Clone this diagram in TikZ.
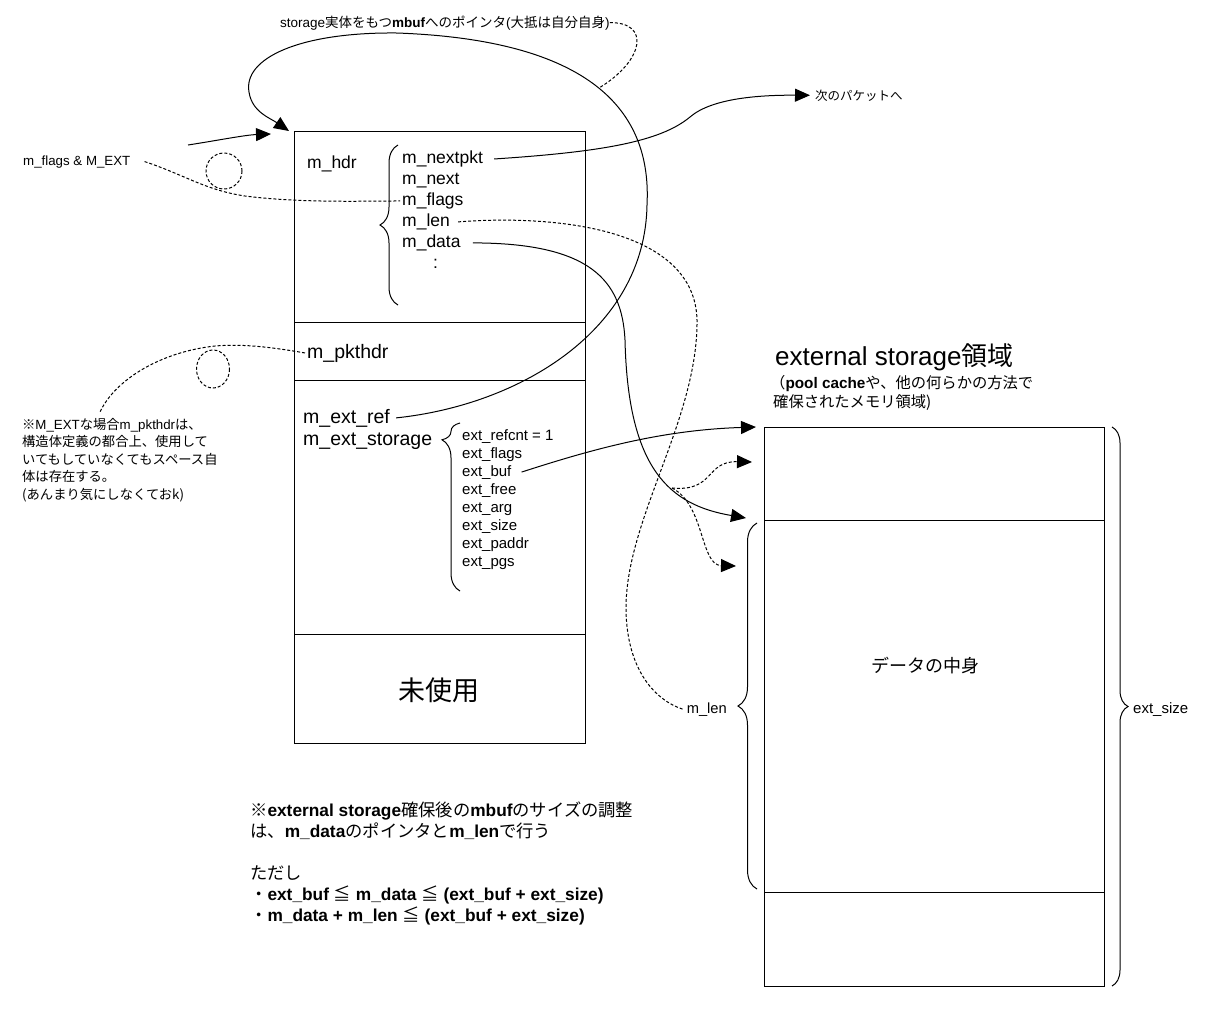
\documentclass[tikz,border=0pt]{standalone}
\usepackage{fontspec}
\setmainfont{Liberation Sans}
\newfontfamily\jpfont{Noto Sans CJK JP}
\newcommand{\jp}[1]{{\jpfont #1}}
\usetikzlibrary{arrows.meta, calc, decorations.pathreplacing}

\tikzset{
  sect/.style={draw, line width=1pt, inner sep=0, anchor=north west},
  fld/.style={font=\fontsize{17.5}{21}\selectfont, anchor=base west, inner sep=0},
  bigfld/.style={font=\fontsize{19.5}{23}\selectfont, anchor=base west, inner sep=0},
  extfld/.style={font=\fontsize{15}{18}\selectfont, anchor=base west, inner sep=0},
  small/.style={font=\fontsize{13.3}{17.5}\selectfont, inner sep=0},
  conn/.style={line width=1pt, -{Triangle[length=15pt,width=13pt]}},
  dots/.style={line width=1pt, dash pattern=on 3pt off 2pt},
  dotarrow/.style={dots, -{Triangle[length=15pt,width=13pt]}},
  brc/.style={line width=1pt, decorate},
}

\begin{document}
\begin{tikzpicture}[x=1pt, y=-1pt]
  \useasboundingbox (0,0) rectangle (1207,1013);
  \fill[white] (0,0) rectangle (1207,1013);

  % ===== mbuf (left) =====
  \node[sect, minimum width=291pt, minimum height=191pt] (hdrsec) at (294,131) {};
  \node[sect, minimum width=291pt, minimum height=58pt] (pktsec) at (294,322) {};
  \node[sect, minimum width=291pt, minimum height=254pt] (extsec) at (294,380) {};
  \node[sect, minimum width=291pt, minimum height=109pt] (unused) at (294,634) {};

  \node[fld] (mhdr) at (307,168) {m\_hdr};
  \node[fld] (nextpkt) at (402,163.5) {m\_nextpkt};
  \node[fld] (mnext) at (402,184.5) {m\_next};
  \node[fld] (mflags) at (402,205.5) {m\_flags};
  \node[fld] (mlen) at (402,226.5) {m\_len};
  \node[fld] (mdata) at (402,247.5) {m\_data};
  \node[fld] (mdots) at (433,268) {:};
  \draw[brc, decoration={brace, amplitude=18pt}] (398,305) -- (398,145);

  \node[bigfld] (pkthdr) at (307,358) {m\_pkthdr};

  \node[bigfld] (extref) at (303,423) {m\_ext\_ref};
  \node[bigfld] (extstor) at (303,445) {m\_ext\_storage};
  \foreach \txt [count=\i] in {ext\_refcnt = 1, ext\_flags, ext\_buf, ext\_free, ext\_arg, ext\_size, ext\_paddr, ext\_pgs}
    \node[extfld] (e\i) at (462, 422+18*\i) {\txt};
  \draw[brc, decoration={brace, amplitude=18pt, aspect=0.9}] (460,591) -- (460,423);

  \node[font=\jpfont\fontsize{27}{30}\selectfont] (unusedlbl) at (439,690) {未使用};

  % ===== external storage (right) =====
  \node[anchor=base west, inner sep=0, font=\fontsize{26}{30}\selectfont] (estitle) at (775,365) {external storage\jp{領域}};
  \node[anchor=base west, inner sep=0, font=\fontsize{15.3}{19}\selectfont] (essub1) at (770,388) {\jp{（}\textbf{pool cache}\jp{や、他の何らかの方法で}};
  \node[anchor=base west, inner sep=0, font=\fontsize{15.3}{19}\selectfont] (essub2) at (773,407) {\jp{確保されたメモリ領域)}};

  \node[sect, minimum width=340pt, minimum height=93pt] (estop) at (764,427) {};
  \node[sect, minimum width=340pt, minimum height=372pt] (esdata) at (764,520) {};
  \node[sect, minimum width=340pt, minimum height=94pt] (esend) at (764,892) {};
  \node[font=\jpfont\fontsize{18}{20}\selectfont] (datalbl) at (925,666) {データの中身};

  \draw[brc, decoration={brace, amplitude=19pt}] (757,889) -- (757,523);
  \node[anchor=base east, inner sep=0, font=\fontsize{14.7}{17}\selectfont] (mlenlbl) at (727,713) {m\_len};
  \draw[brc, decoration={brace, amplitude=16pt}] (1112,427) -- (1112,986);
  \node[anchor=base west, inner sep=0, font=\fontsize{15}{17}\selectfont] (sizelbl) at (1133,713) {ext\_size};

  % ===== labels and notes =====
  \node[small, anchor=base west, font=\fontsize{13.5}{16}\selectfont] (toplbl) at (280,27) {storage\jp{実体をもつ}\textbf{mbuf}\jp{へのポインタ}(\jp{大抵は自分自身})};
  \node[small, anchor=base west] (flagslbl) at (23,165) {m\_flags \& M\_EXT};
  \node[small, anchor=base west, font=\fontsize{12.5}{15}\selectfont] (nextlbl) at (815,100) {\jp{次のパケットへ}};
  \node[small, anchor=north west, align=left] (pknote) at (22,418) {\jp{※}M\_EXT\jp{な場合}m\_pkthdr\jp{は、}\\\jp{構造体定義の都合上、使用して}\\\jp{いてもしていなくてもスペース自}\\\jp{体は存在する。}\\\jp{(あんまり気にしなくておk)}};
  \node[anchor=north west, align=left, inner sep=0, font=\fontsize{17.3}{21}\selectfont] (btmnote) at (250,802) {\jp{※}\textbf{external storage}\jp{確保後の}\textbf{mbuf}\jp{のサイズの調整}\\
    \jp{は、}\textbf{m\_data}\jp{のポインタと}\textbf{m\_len}\jp{で行う}\\[21pt]
    \jp{ただし}\\
    \jp{・}\textbf{ext\_buf} \jp{≦} \textbf{m\_data} \jp{≦} \textbf{(ext\_buf + ext\_size)}\\
    \jp{・}\textbf{m\_data + m\_len} \jp{≦} \textbf{(ext\_buf + ext\_size)}};

  % free ends
  \coordinate (entry) at (188,145);
  \coordinate (refpt) at (599,88);
  \coordinate (notetop) at ($(pknote.north west)+(78,-6)$);
  \coordinate (buftip) at ($(estop.north west)+(-8,0)$);
  \coordinate (datatip) at (746,518);
  \coordinate (fork) at (672,488);
  \coordinate (alt1) at (752,462);
  \coordinate (alt2) at (736,566);

  % ===== connectors =====
  \draw[conn] (entry) .. controls (220,140) and (245,135) .. ($(hdrsec.north west)+(-23,3)$);
  \draw[conn] ([xshift=6]extref.east) .. controls (520,405) and (645,330) .. (647,205) .. controls (652,110) and (590,40) .. (397,33) .. controls (300,32) and (243,58) .. (249,92) .. controls (252,112) and (270,118) .. ($(hdrsec.north west)+(-5,0)$);
  \draw[dots] (toplbl.east) .. controls (650,22) and (645,60) .. (refpt);

  \draw[conn] ([xshift=11]nextpkt.east) .. controls (600,152) and (660,142) .. (690,117) .. controls (712,98) and (760,95) .. ([xshift=-5]nextlbl.west);

  \draw[dots] ([xshift=14]flagslbl.east) .. controls (185,175) and (205,190) .. (245,196) .. controls (300,203) and (360,201) .. ([xshift=-2]mflags.west);
  \draw[dots] (224,171) circle[radius=18];

  \draw[dots] ([xshift=-2]pkthdr.west) .. controls (265,346) and (240,344) .. (215,346) .. controls (160,352) and (115,380) .. (notetop);
  \draw[dots] (213,369) circle[x radius=16.5, y radius=19];

  \draw[dots] ([xshift=8]mlen.east) .. controls (560,214) and (695,230) .. (697,320) .. controls (698,420) and (625,520) .. (626,610) .. controls (627,670) and (655,700) .. ([xshift=-4]mlenlbl.west);

  \draw[conn] ([xshift=12]mdata.east) .. controls (590,243) and (622,280) .. (625,340) .. controls (628,470) and (670,505) .. (datatip);
  \draw[dotarrow] (fork) .. controls (715,492) and (705,461) .. (alt1);
  \draw[dotarrow] (fork) .. controls (705,505) and (700,565) .. (alt2);

  \draw[conn] ([xshift=10]e3.east) .. controls (590,450) and (660,430) .. (buftip);
\end{tikzpicture}
\end{document}
